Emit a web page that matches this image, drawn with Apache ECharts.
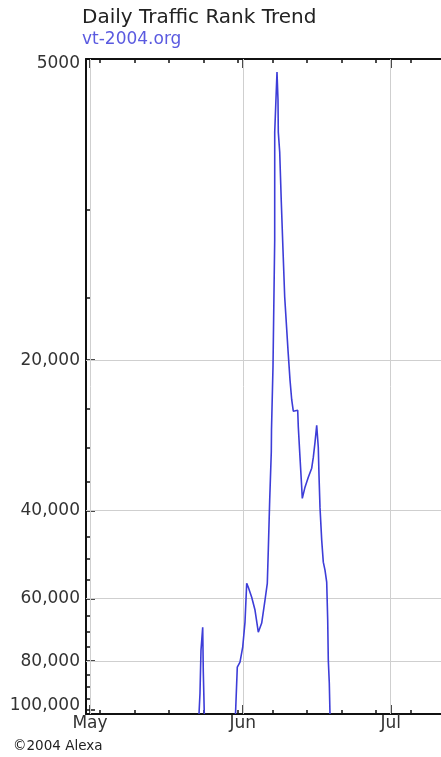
<!DOCTYPE html>
<html>
<head>
<meta charset="utf-8">
<script src="https://cdn.jsdelivr.net/npm/echarts@6/dist/echarts.min.js"></script>
<style>
html,body{margin:0;padding:0;background:#fff;}
#chart{width:441px;height:757px;}
</style>
</head>
<body>
<div id="chart"></div>
<script>
// ---- data ----
const dates = [
  '2004-05-23T02:38Z','2004-05-23T07:29Z','2004-05-23T12:22Z','2004-05-23T20:38Z','2004-05-23T23:34Z','2004-05-24T04:26Z',
  '2004-05-27T00:00Z',
  '2004-05-30T12:19Z','2004-05-30T16:12Z','2004-05-30T21:04Z','2004-05-31T10:13Z','2004-05-31T23:22Z',
  '2004-06-01T10:34Z','2004-06-01T18:50Z','2004-06-02T02:38Z','2004-06-02T19:10Z','2004-06-03T11:15Z',
  '2004-06-04T03:19Z','2004-06-04T19:52Z','2004-06-05T11:56Z','2004-06-05T23:07Z','2004-06-06T03:59Z',
  '2004-06-06T10:48Z','2004-06-06T18:36Z','2004-06-06T19:34Z','2004-06-07T02:53Z','2004-06-07T11:09Z',
  '2004-06-07T11:15Z','2004-06-07T22:21Z','2004-06-08T03:13Z','2004-06-08T04:41Z','2004-06-08T11:30Z',
  '2004-06-08T19:17Z','2004-06-09T03:33Z','2004-06-09T11:50Z','2004-06-10T03:53Z','2004-06-10T13:38Z',
  '2004-06-10T21:55Z','2004-06-11T05:41Z','2004-06-12T03:07Z','2004-06-12T06:03Z','2004-06-12T14:18Z',
  '2004-06-12T22:35Z','2004-06-13T01:31Z','2004-06-13T14:40Z','2004-06-14T06:43Z','2004-06-14T23:17Z',
  '2004-06-15T07:03Z','2004-06-15T15:20Z','2004-06-15T23:37Z','2004-06-16T07:23Z','2004-06-16T10:48Z',
  '2004-06-16T15:40Z','2004-06-16T23:57Z','2004-06-17T07:45Z','2004-06-17T16:00Z','2004-06-18T00:17Z',
  '2004-06-18T05:10Z','2004-06-18T08:05Z','2004-06-18T12:58Z','2004-06-18T16:22Z'
];
const ranks = [
  102000, 92700, 76000, 68400, 84100, 102000,
  null,
  102000, 92700, 82200, 80300, 75000,
  66800, 55900, 56900, 59600, 63200,
  70000, 67100, 60400, 55900, 48000,
  38100, 30500, 27600, 20600, 11500,
  7000, 5310, 6040, 7000, 7670,
  9660, 12050, 14960, 19100, 21900,
  24000, 25300, 25200, 27200, 31300,
  35900, 37800, 35900, 34300, 32900,
  31300, 29200, 27000, 29900, 34000,
  39400, 45800, 50700, 52600, 55600,
  66200, 79600, 88500, 102000
];
const monthStarts = ['2004-05-01T00:00Z','2004-06-01T00:00Z','2004-07-01T00:00Z'];
const monthLabels = ['May','Jun','Jul'];
const weekTicks = ['2004-05-03T00:00Z','2004-05-10T00:00Z','2004-05-17T00:00Z','2004-05-24T00:00Z','2004-05-31T00:00Z',
  '2004-06-07T00:00Z','2004-06-14T00:00Z','2004-06-21T00:00Z','2004-06-28T00:00Z','2004-07-05T00:00Z','2004-07-12T00:00Z'];
const yMajor = [5000, 20000, 40000, 60000, 80000, 100000];
const yLabels = ['5000','20,000','40,000','60,000','80,000','100,000'];
const yMinor = [10000, 15000, 25000, 30000, 35000, 45000, 50000, 55000, 65000, 70000, 75000, 85000, 90000, 95000];
const yGrid = [20000, 40000, 60000, 80000];

// ---- axis ranges ----
const XMIN = Date.parse('2004-04-30T04:32Z');
const XMAX = Date.parse('2004-07-12T05:04Z');
const YMIN = 5000, YMAX = 102000;

const ts = s => Date.parse(s);
const seriesData = dates.map((d, i) => [ts(d), ranks[i]]);
const FONT = '"DejaVu Sans", Verdana, sans-serif';
const AXC = '#111';
const LBL = { fontSize: 17, fontFamily: FONT, color: '#333' };

function xAx(pos, ticks, len, labels) {
  return {
    type: 'value', position: pos, min: XMIN, max: XMAX,
    axisLine: { show: len < 6, lineStyle: { color: AXC, width: 2 } },
    axisTick: { show: true, inside: true, length: len, customValues: ticks.map(ts), lineStyle: { color: AXC, width: 1.5 } },
    axisLabel: labels ? Object.assign({
      show: true, customValues: monthStarts.map(ts), margin: 1,
      formatter: v => { const i = monthStarts.map(ts).indexOf(v); return i >= 0 ? monthLabels[i] : ''; }
    }, LBL) : { show: false },
    splitLine: { show: false }
  };
}
function yHelper(values, len, labels) {
  return {
    type: 'value', position: 'left', inverse: true,
    min: Math.log10(YMIN), max: Math.log10(YMAX),
    axisLine: { show: false },
    axisTick: { show: true, inside: true, length: len, customValues: values.map(Math.log10), lineStyle: { color: AXC, width: 1.5 } },
    axisLabel: labels ? Object.assign({
      show: true, customValues: values.map(Math.log10), margin: 6,
      formatter: v => {
        const i = yMajor.findIndex(m => Math.abs(Math.log10(m) - v) < 1e-6);
        if (i < 0) return '';
        if (i === 0) return '{top|' + yLabels[i] + '}';
        if (i === yMajor.length - 1) return '{bot|' + yLabels[i] + '}';
        return yLabels[i];
      },
      rich: {
        top: Object.assign({ padding: [9, 0, 0, 0] }, LBL),
        bot: Object.assign({ padding: [0, 0, 9, 0] }, LBL)
      }
    }, LBL) : { show: false },
    splitLine: { show: false }
  };
}

const chart = echarts.init(document.getElementById('chart'), null, { renderer: 'canvas' });
chart.setOption({
  animation: false,
  backgroundColor: '#ffffff',
  title: {
    text: 'Daily Traffic Rank Trend',
    subtext: 'vt-2004.org',
    left: 82, top: 8, padding: 0, itemGap: 3,
    textStyle: { fontSize: 20, fontWeight: 'normal', color: '#222', fontFamily: FONT },
    subtextStyle: { fontSize: 17, color: '#5a5ae0', fontFamily: FONT }
  },
  graphic: [{
    type: 'text', left: 13, top: 739,
    style: { text: '\u00a92004 Alexa', font: '13.5px ' + FONT, fill: '#222' }
  }],
  grid: { left: 86, top: 59, width: 360, height: 655, containLabel: false, outerBoundsMode: 'none' },
  xAxis: [
    xAx('bottom', weekTicks, 4, true),
    xAx('bottom', monthStarts, 9, false),
    xAx('top', weekTicks, 4, false),
    xAx('top', monthStarts, 9, false)
  ],
  yAxis: [
    { type: 'log', logBase: 10, position: 'left', inverse: true, min: YMIN, max: YMAX,
      axisLine: { show: true, lineStyle: { color: AXC, width: 2 } },
      axisTick: { show: false }, axisLabel: { show: false }, splitLine: { show: false } },
    yHelper(yMajor, 9, true),
    yHelper(yMinor, 4, false)
  ],
  series: [
    {
      type: 'line', xAxisIndex: 0, yAxisIndex: 0, data: [], z: 1, silent: true,
      markLine: {
        z: 1, silent: true, symbol: 'none', animation: false,
        label: { show: false },
        lineStyle: { color: '#cfcfcf', width: 1, type: 'solid' },
        emphasis: { disabled: true },
        data: yGrid.map(v => ({ yAxis: v })).concat(monthStarts.map(s => ({ xAxis: ts(s) })))
      }
    },
    {
      type: 'line', xAxisIndex: 0, yAxisIndex: 0, z: 3,
      data: seriesData, showSymbol: false, symbol: 'none', connectNulls: false, clip: true,
      lineStyle: { color: '#3d3dd8', width: 1.6 }
    }
  ]
});
</script>
</body>
</html>
